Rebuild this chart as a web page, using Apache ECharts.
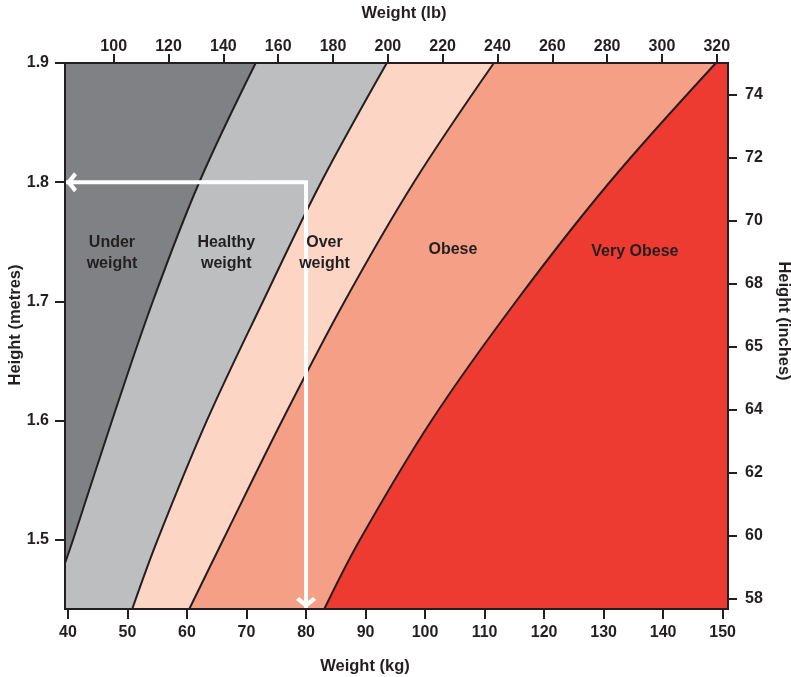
<!DOCTYPE html>
<html>
<head>
<meta charset="utf-8">
<script src="https://cdn.jsdelivr.net/npm/echarts@6/dist/echarts.min.js"></script>
<style>
html,body{margin:0;padding:0;background:#fff;}
#chart{width:791px;height:677px;}
</style>
</head>
<body>
<div id="chart"></div>
<script>
// ---- Data ----
// Axis ticks
const kgTicks = [40, 50, 60, 70, 80, 90, 100, 110, 120, 130, 140, 150];
const lbTicks = [100, 120, 140, 160, 180, 200, 220, 240, 260, 280, 300, 320];
const metreTicks = [1.5, 1.6, 1.7, 1.8, 1.9];
const inchTicks = [58, 60, 62, 64, 66, 68, 70, 72, 74];
const inchTickLabels = ['58', '60', '62', '64', '65', '68', '70', '72', '74'];

// Boundary curves: [weight kg, height m]
const underHealthy = [[39.5, 1.4805], [40.84, 1.5], [47.39, 1.6], [54.25, 1.7], [62.06, 1.8], [71.54, 1.9]];
const healthyOver = [[50.80, 1.4421], [55.05, 1.5], [63.33, 1.6], [72.76, 1.7], [82.53, 1.8], [93.57, 1.9]];
const overObese = [[60.38, 1.4421], [66.06, 1.5], [75.97, 1.6], [86.47, 1.7], [98.13, 1.8], [111.56, 1.9]];
const obeseVery = [[83.06, 1.4421], [89.03, 1.5], [101.06, 1.6], [115.27, 1.7], [131.01, 1.8], [148.87, 1.9]];

// Zones
const zoneNames = ['Under\nweight', 'Healthy\nweight', 'Over\nweight', 'Obese', 'Very Obese'];
const zoneLabelKg = [47.39, 66.6, 83.1, 104.68, 135.26];
const zoneLabelM = [1.7408, 1.7408, 1.7408, 1.7436, 1.7417];

// Example reading (white arrows)
const exampleKg = 80;
const exampleM = 1.8;

// Axis ranges
const kgMin = 39.5, kgMax = 150.9;
const lbMin = 82.23, lbMax = 324.1;
const mMin = 1.4421, mMax = 1.9;
const inMin = 57.66, inMax = 75;

// ---- Styles ----
const INK = '#231f20';
const FONT = '"Liberation Sans", Arial, Helvetica, sans-serif';
const zoneColors = ['#808184', '#bcbec0', '#fcd5c5', '#f59f86', '#ee3b32'];
const chevron = 'path://M10,0 L20,8 L17,11 L10,5.5 L3,11 L0,8 Z';
const seamOverlap = 0.2; // small overlap (kg) hidden under the frame, avoids anti-alias seams

const chart = echarts.init(document.getElementById('chart'), null, {renderer: 'canvas'});

function axisCommon(ticks, tickLen, margin, formatter) {
  return {
    type: 'value',
    z: 10,
    axisLine: {show: true, onZero: false, lineStyle: {color: INK, width: 2}},
    axisTick: {show: true, inside: false, length: tickLen, customValues: ticks, lineStyle: {color: INK, width: 2}},
    axisLabel: {show: true, customValues: ticks, margin: margin, color: INK, fontSize: 16, fontWeight: 'bold', fontFamily: FONT, formatter: formatter},
    splitLine: {show: false},
    minorTick: {show: false}
  };
}

const curves = [underHealthy, healthyOver, overObese, obeseVery];
const curveSeries = curves.map(function (pts, i) {
  const topKg = pts[pts.length - 1][0];
  return {
    type: 'line',
    xAxisIndex: 0,
    yAxisIndex: 0,
    data: pts,
    smooth: 0.35,
    symbol: 'none',
    z: 2,
    lineStyle: {color: INK, width: 2},
    areaStyle: {color: zoneColors[i + 1], opacity: 1, origin: 'start'},
    silent: true,
    markArea: {
      silent: true,
      z: 1,
      itemStyle: {color: zoneColors[i + 1], opacity: 1, borderWidth: 0},
      label: {show: false},
      data: [[{xAxis: topKg - seamOverlap}, {xAxis: kgMax}]]
    }
  };
});

const labelSeries = {
  type: 'scatter',
  xAxisIndex: 0,
  yAxisIndex: 0,
  z: 6,
  symbolSize: 1,
  itemStyle: {opacity: 0},
  silent: true,
  data: zoneNames.map(function (n, i) { return {value: [zoneLabelKg[i], zoneLabelM[i]], name: n}; }),
  label: {
    show: true,
    position: 'inside',
    formatter: function (p) { return p.name; },
    color: INK,
    opacity: 1,
    textBorderWidth: 0,
    fontSize: 16,
    fontWeight: 'bold',
    fontFamily: FONT,
    lineHeight: 21,
    align: 'center',
    verticalAlign: 'middle'
  }
};

const arrowSeries = {
  type: 'line',
  xAxisIndex: 0,
  yAxisIndex: 0,
  z: 5,
  clip: false,
  silent: true,
  showSymbol: true,
  lineStyle: {color: '#ffffff', width: 4, join: 'miter'},
  itemStyle: {color: '#ffffff'},
  data: [
    {value: [exampleKg, mMin], symbol: chevron, symbolSize: [20, 11], symbolRotate: 180, symbolOffset: [0, -6.5], symbolKeepAspect: false},
    {value: [exampleKg, exampleM], symbol: 'none'},
    {value: [kgMin, exampleM], symbol: chevron, symbolSize: [20, 11], symbolRotate: 90, symbolOffset: [6.5, 0], symbolKeepAspect: false}
  ]
};

const option = {
  animation: false,
  backgroundColor: '#ffffff',
  textStyle: {fontFamily: FONT},
  grid: {
    left: 65, right: 63, top: 63, bottom: 68,
    show: true,
    backgroundColor: zoneColors[0],
    borderColor: INK,
    borderWidth: 2,
    containLabel: false
  },
  xAxis: [
    Object.assign(axisCommon(kgTicks, 10, 16, function (v) { return String(Math.round(v)); }), {position: 'bottom', min: kgMin, max: kgMax}),
    Object.assign(axisCommon(lbTicks, 9, 8, function (v) { return String(Math.round(v)); }), {position: 'top', min: lbMin, max: lbMax})
  ],
  yAxis: [
    Object.assign(axisCommon(metreTicks, 10, 16, function (v) { return v.toFixed(1); }), {position: 'left', min: mMin, max: mMax}),
    Object.assign(axisCommon(inchTicks, 9, 17, function (v) {
      const k = inchTicks.indexOf(Math.round(v));
      return k >= 0 ? inchTickLabels[k] : '';
    }), {position: 'right', min: inMin, max: inMax})
  ],
  graphic: [
    {type: 'text', x: 404, y: 13, silent: true, style: {text: 'Weight (lb)', fill: INK, font: 'bold 16.5px ' + FONT, textAlign: 'center', textVerticalAlign: 'middle'}},
    {type: 'text', x: 365, y: 666, silent: true, style: {text: 'Weight (kg)', fill: INK, font: 'bold 16.5px ' + FONT, textAlign: 'center', textVerticalAlign: 'middle'}},
    {type: 'text', x: 15.5, y: 325, rotation: Math.PI / 2, silent: true, style: {text: 'Height (metres)', fill: INK, font: 'bold 16.5px ' + FONT, textAlign: 'center', textVerticalAlign: 'middle'}},
    {type: 'text', x: 784, y: 321, rotation: -Math.PI / 2, silent: true, style: {text: 'Height (inches)', fill: INK, font: 'bold 16.5px ' + FONT, textAlign: 'center', textVerticalAlign: 'middle'}}
  ],
  series: curveSeries.concat([arrowSeries, labelSeries])
};

chart.setOption(option);
</script>
</body>
</html>
